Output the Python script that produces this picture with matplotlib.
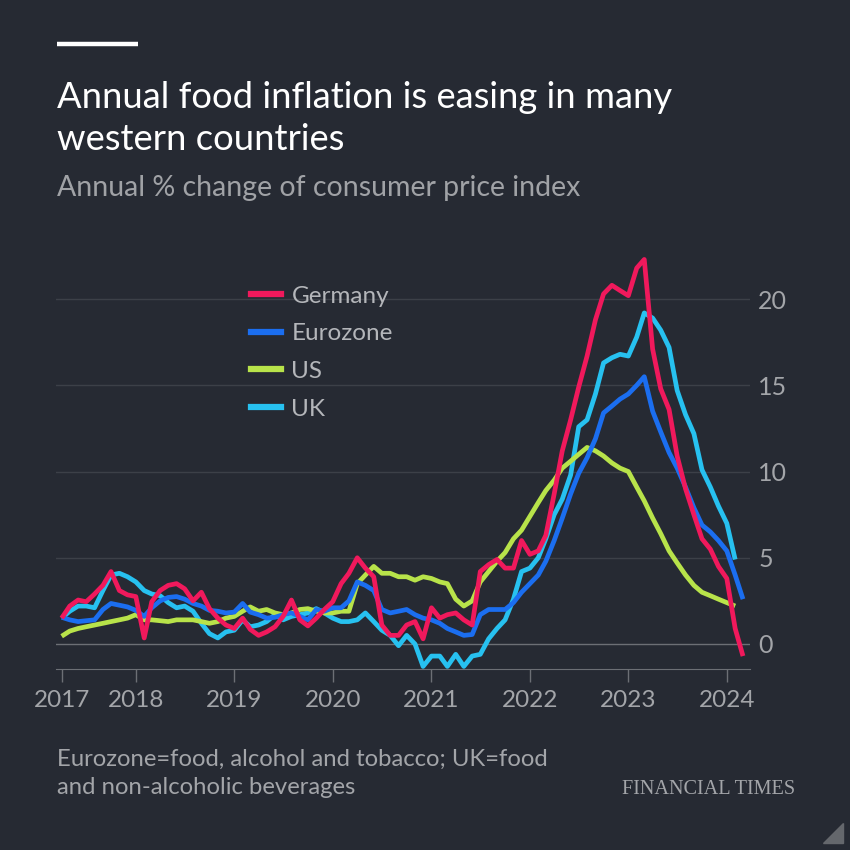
import matplotlib
matplotlib.use("Agg")
import matplotlib.pyplot as plt
from matplotlib.patches import Polygon
from matplotlib.lines import Line2D
import pandas as pd

plt.rcParams["font.family"] = ["Lato", "DejaVu Sans"]

# monthly annual % change, Apr 2017 onwards
germany = [1.5, 2.2, 2.55, 2.45, 2.9, 3.4, 4.2, 3.1, 2.85,
           2.75, 0.35, 2.45, 3.1, 3.4, 3.5, 3.2, 2.5, 3.0, 2.05, 1.5, 1.1,
           0.9, 1.5, 0.85, 0.5, 0.7, 1.0, 1.6, 2.55, 1.4, 1.05, 1.5, 2.0,
           2.45, 3.5, 4.1, 5.0, 4.4, 3.9, 1.1, 0.5, 0.5, 1.1, 1.3, 0.3,
           2.1, 1.5, 1.7, 1.8, 1.4, 1.1, 4.2, 4.6, 4.9, 4.4, 4.4, 6.0,
           5.2, 5.4, 6.3, 8.7, 11.2, 13.0, 14.9, 16.7, 18.8, 20.3, 20.8, 20.5,
           20.2, 21.8, 22.3, 17.1, 14.8, 13.6, 10.9, 9.0, 7.5, 6.1, 5.5, 4.5,
           3.8, 0.9, -0.7]
eurozone = [1.55, 1.4, 1.3, 1.35, 1.4, 2.0, 2.35, 2.25, 2.15,
            1.95, 1.6, 2.1, 2.5, 2.7, 2.75, 2.6, 2.35, 2.2, 1.95, 1.9, 1.8,
            1.85, 2.35, 1.85, 1.7, 1.5, 1.55, 1.7, 1.8, 1.6, 1.4, 2.0, 1.9,
            2.1, 2.1, 2.5, 3.6, 3.4, 3.1, 2.0, 1.8, 1.9, 2.0, 1.7, 1.5,
            1.4, 1.2, 0.9, 0.7, 0.5, 0.55, 1.7, 2.0, 2.0, 2.0, 2.4, 3.0,
            3.5, 4.0, 4.8, 6.0, 7.3, 8.7, 9.9, 10.8, 11.9, 13.4, 13.8, 14.2,
            14.5, 15.0, 15.5, 13.5, 12.3, 11.1, 10.2, 9.1, 7.9, 6.9, 6.5, 6.0,
            5.4, 4.0, 2.6]
us = [0.45, 0.75, 0.9, 1.0, 1.1, 1.2, 1.3, 1.4, 1.5,
      1.7, 1.4, 1.4, 1.35, 1.3, 1.4, 1.4, 1.4, 1.3, 1.2, 1.3, 1.5,
      1.6, 1.9, 2.15, 1.9, 2.0, 1.8, 1.7, 1.8, 2.0, 2.05, 1.9, 1.8,
      1.8, 1.9, 1.9, 3.5, 4.0, 4.5, 4.1, 4.1, 3.9, 3.9, 3.7, 3.9,
      3.8, 3.6, 3.5, 2.6, 2.2, 2.5, 3.6, 4.2, 4.8, 5.3, 6.1, 6.6,
      7.4, 8.2, 8.9, 9.5, 10.2, 10.6, 11.0, 11.4, 11.2, 10.9, 10.5, 10.2,
      10.0, 9.1, 8.3, 7.3, 6.4, 5.4, 4.7, 4.0, 3.4, 3.0, 2.8, 2.6,
      2.4, 2.2]
uk = [1.5, 1.9, 2.2, 2.2, 2.1, 3.1, 4.0, 4.1, 3.9,
      3.6, 3.1, 2.9, 2.8, 2.4, 2.1, 2.2, 1.9, 1.2, 0.6, 0.35, 0.7,
      0.8, 1.4, 1.0, 1.1, 1.3, 1.7, 1.4, 1.6, 1.7, 1.8, 2.05, 1.8,
      1.5, 1.3, 1.3, 1.4, 1.8, 1.3, 0.8, 0.5, -0.1, 0.5, 0.0, -1.3,
      -0.7, -0.7, -1.3, -0.6, -1.3, -0.7, -0.6, 0.3, 0.9, 1.4, 2.6, 4.2,
      4.4, 5.0, 6.1, 7.5, 8.4, 9.8, 12.6, 13.0, 14.5, 16.3, 16.6, 16.8,
      16.7, 17.8, 19.2, 18.9, 18.2, 17.2, 14.7, 13.3, 12.2, 10.1, 9.1, 8.0,
      7.0, 4.9]

series_names = ["Germany", "Eurozone", "US", "UK"]
year_labels = ["2017", "2018", "2019", "2020", "2021", "2022", "2023", "2024"]
y_ticks = [0, 5, 10, 15, 20]

BG = "#262a33"
colors = {"Germany": "#f0195c", "Eurozone": "#1b6ef0", "US": "#b8e34a", "UK": "#27c1f0"}
grey = "#a3a5a9"

start = pd.Timestamp("2017-04-01")
data = {"Germany": germany, "Eurozone": eurozone, "US": us, "UK": uk}

fig = plt.figure(figsize=(8.5, 8.5), dpi=100, facecolor=BG)
ax = fig.add_axes([56 / 850, 1 - 669 / 850, 694 / 850, 413 / 850])
ax.set_facecolor(BG)

# draw UK first so Germany ends up on top
for name in ["UK", "US", "Eurozone", "Germany"]:
    vals = data[name]
    dates = pd.date_range(start, periods=len(vals), freq="MS")
    ax.plot(dates, vals, color=colors[name], lw=3.4, solid_joinstyle="round",
            solid_capstyle="butt", zorder=3)

ax.set_ylim(-1.45, 22.5)
ax.set_xlim(pd.Timestamp("2017-03-11"), pd.Timestamp("2024-03-27"))

for v in y_ticks:
    ax.axhline(v, color="#6c6f75" if v == 0 else "#3c4048", lw=1, zorder=1)

tick_dates = [start] + [pd.Timestamp(f"{y}-01-01") for y in year_labels[1:]]
ax.set_xticks(tick_dates)
ax.set_xticklabels(year_labels)
ax.set_yticks(y_ticks)
ax.set_yticklabels([str(v) for v in y_ticks])
ax.yaxis.tick_right()
ax.tick_params(axis="y", length=0, pad=6, labelsize=18, labelcolor=grey)
ax.tick_params(axis="x", length=9, width=1, color="#6c6f75", pad=6,
               labelsize=17.5, labelcolor=grey)
for side in ["top", "left", "right"]:
    ax.spines[side].set_visible(False)
ax.spines["bottom"].set_color("#6c6f75")

handles = [Line2D([], [], color=colors[n], lw=4.5) for n in series_names]
fig.legend(handles, series_names, loc="upper left",
           bbox_to_anchor=(229 / 850, 1 - 264 / 850), frameon=False,
           handlelength=1.22, handletextpad=0.45, labelspacing=0.68,
           fontsize=17.5, labelcolor="#b4b6ba")

# header
fig.add_artist(Line2D([57 / 850, 138 / 850], [1 - 44 / 850] * 2,
                      color="white", lw=3.2, solid_capstyle="butt"))
fig.text(57 / 850, 1 - 108 / 850, "Annual food inflation is easing in many",
         color="white", fontsize=26.2, va="baseline")
fig.text(57 / 850, 1 - 150 / 850, "western countries",
         color="white", fontsize=26.2, va="baseline")
fig.text(57 / 850, 1 - 196 / 850, "Annual % change of consumer price index",
         color="#a0a2a6", fontsize=20.5, va="baseline")

# footer
fig.text(57 / 850, 1 - 766 / 850, "Eurozone=food, alcohol and tobacco; UK=food",
         color=grey, fontsize=17.2, va="baseline")
fig.text(57 / 850, 1 - 794 / 850, "and non-alcoholic beverages",
         color=grey, fontsize=17.2, va="baseline")
fig.text(795 / 850, 1 - 794 / 850, "FINANCIAL TIMES", color=grey, fontsize=14.6,
         va="baseline", ha="right", family="Liberation Serif")

fig.add_artist(Polygon([[823 / 850, 1 - 843 / 850], [843 / 850, 1 - 843 / 850],
                        [843 / 850, 1 - 823 / 850]], closed=True,
                       transform=fig.transFigure, color="#64676c"))

fig.savefig("out.png", dpi=100, facecolor=BG)
